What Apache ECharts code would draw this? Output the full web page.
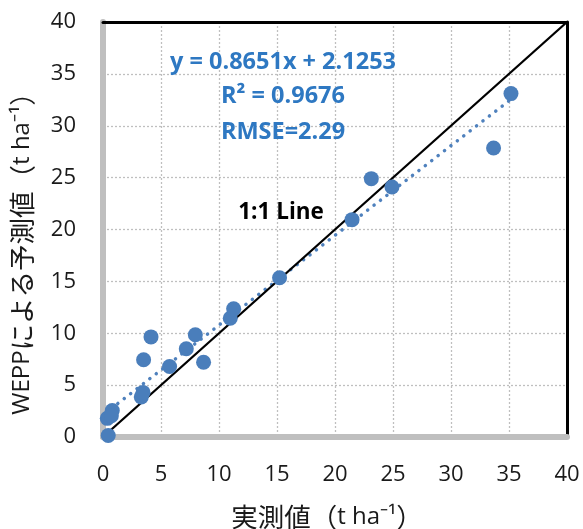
<!DOCTYPE html>
<html><head><meta charset="utf-8">
<script src="https://cdn.jsdelivr.net/npm/echarts@6/dist/echarts.min.js"></script>
<style>html,body{margin:0;padding:0;background:#fff}#c{width:583px;height:529px}</style>
</head><body><div id="c"></div>
<script>
// observed (x) vs WEPP predicted (y), t ha-1
var observed  = [0.45, 0.37, 0.80, 0.72, 3.30, 3.45, 3.50, 4.14, 5.74, 7.18, 7.96, 8.67, 10.97, 11.26, 15.22, 21.47, 23.13, 24.91, 33.67, 35.17];
var predicted = [0.15, 1.80, 2.55, 2.05, 3.85, 4.30, 7.45, 9.65, 6.80, 8.50, 9.85, 7.20, 11.45, 12.35, 15.35, 20.95, 24.90, 24.10, 27.85, 33.10];
var slope = 0.8651, intercept = 2.1253;
var oneToOne = [[0, 0], [40, 40]];
var ticks = [0, 5, 10, 15, 20, 25, 30, 35, 40];
var eqText = 'y = 0.8651x + 2.1253';
var r2Text = 'R² = 0.9676';
var rmseText = 'RMSE=2.29';
var lineText = '1:1 Line';
var xNameJa = '実測値', yNameLat = 'WEPP', yNameJa = 'による予測値', unitText = 't ha⁻¹';

var pts = observed.map(function(v, i){ return [v, predicted[i]]; });
var xmin = Math.min.apply(null, observed), xmax = Math.max.apply(null, observed);
var trend = [[xmin - 0.2, slope*(xmin-0.2)+intercept], [xmax, slope*xmax+intercept]];

var LAT = "'Open Sans',sans-serif";
var CJK = "'Noto Sans CJK JP','Open Sans',sans-serif";
var rich = {
  j:{fontFamily:CJK, fontSize:26.5, fill:'#1a1a1a', color:'#1a1a1a'},
  l:{fontFamily:LAT, fontSize:24, fill:'#1a1a1a', color:'#1a1a1a'}
};
var chart = echarts.init(document.getElementById('c'));
var gridLine = {show:true, lineStyle:{color:'#BFBFBF', type:[2,2], width:1.3}};
chart.setOption({
  animation:false,
  grid:{left:103, right:16, top:22, bottom:92},
  xAxis:[{
    type:'value', min:0, max:40, interval:5,
    axisLine:{show:true, onZero:false, lineStyle:{color:'#BFBFBF', width:6}},
    axisTick:{show:false},
    axisLabel:{fontSize:22, color:'#1a1a1a', fontFamily:LAT, margin:27, formatter:function(v){return ticks.indexOf(v)>=0?String(v):'';}},
    splitLine:gridLine
  },{
    type:'value', min:0, max:40, position:'top',
    axisLine:{show:true, onZero:false, lineStyle:{color:'#000', width:3}},
    axisTick:{show:false}, axisLabel:{show:false}, splitLine:{show:false}
  }],
  yAxis:[{
    type:'value', min:0, max:40, interval:5,
    axisLine:{show:true, onZero:false, lineStyle:{color:'#BFBFBF', width:6}},
    axisTick:{show:false},
    axisLabel:{fontSize:22, color:'#1a1a1a', fontFamily:LAT, margin:27},
    splitLine:gridLine
  },{
    type:'value', min:0, max:40, position:'right',
    axisLine:{show:true, onZero:false, lineStyle:{color:'#000', width:3}},
    axisTick:{show:false}, axisLabel:{show:false}, splitLine:{show:false}
  }],
  series:[{
    type:'line', data:trend, symbol:'none', z:3,
    lineStyle:{color:'#4F81BD', width:3.5, type:[0.1,8], cap:'round'}
  },{
    type:'line', data:oneToOne, symbol:'none', z:4,
    lineStyle:{color:'#000', width:2.3}
  },{
    type:'scatter', data:pts, symbolSize:15, z:5,
    itemStyle:{color:'#4A7EBB', opacity:1}
  }],
  graphic:[
    {type:'text', x:283, y:62, z:10, style:{text:eqText, fill:'#2E78C2', font:"bold 23.5px "+LAT, textAlign:'center', textVerticalAlign:'middle'}},
    {type:'text', x:283, y:96, z:10, style:{text:r2Text, fill:'#2E78C2', font:"bold 23.5px "+LAT, textAlign:'center', textVerticalAlign:'middle'}},
    {type:'text', x:283, y:132, z:10, style:{text:rmseText, fill:'#2E78C2', font:"bold 23.5px "+LAT, textAlign:'center', textVerticalAlign:'middle'}},
    {type:'text', x:281, y:213, z:10, style:{text:lineText, fill:'#000', font:"bold 22.5px "+LAT, textAlign:'center', textVerticalAlign:'middle'}},
    {type:'text', x:327, y:517, style:{text:'{j|'+xNameJa+'（}{l|'+unitText+'}{j|）}', rich:rich, textAlign:'center', textVerticalAlign:'middle'}},
    {type:'text', x:22, y:247, rotation:Math.PI/2, style:{text:'{l|'+yNameLat+'}{j|'+yNameJa+'（}{l|'+unitText+'}{j|）}', rich:rich, textAlign:'center', textVerticalAlign:'middle'}}
  ]
});
</script></body></html>
